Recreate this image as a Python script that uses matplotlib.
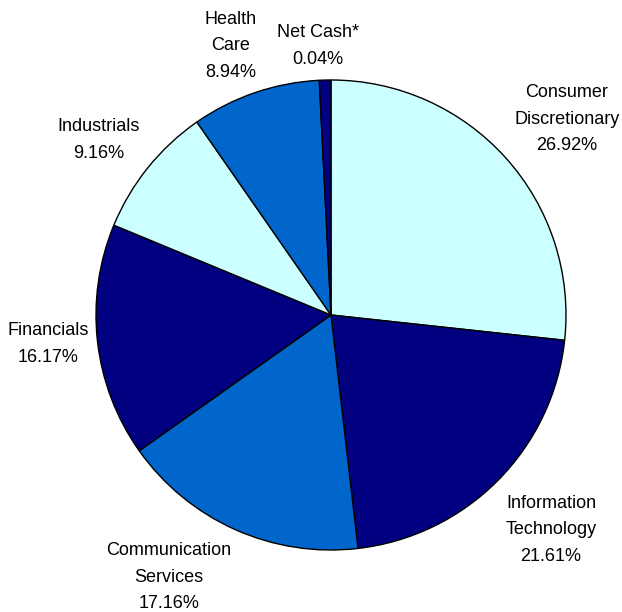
import matplotlib
matplotlib.use("Agg")
import matplotlib.pyplot as plt

sectors = ["Consumer\nDiscretionary", "Information\nTechnology", "Communication\nServices",
           "Financials", "Industrials", "Health\nCare", "Net Cash*"]
label_pct = [26.92, 21.61, 17.16, 16.17, 9.16, 8.94, 0.04]
# slice sizes as drawn in the picture (net cash sliver is drawn wider than its value)
drawn_share = [26.92, 21.61, 17.16, 16.17, 9.16, 8.94, 0.8]
colors = ["#CCFFFF", "#000080", "#0066CC", "#000080", "#CCFFFF", "#0066CC", "#000080"]

# label anchor positions (pixels, top-left origin)
label_pos = [(567, 119), (551, 530), (169, 577), (48, 344), (99, 140), (231, 46), (318, 46)]

W, H = 622, 612
fig = plt.figure(figsize=(W / 100, H / 100), dpi=100)
ax = fig.add_axes([0, 0, 1, 1])
ax.set_xlim(0, W)
ax.set_ylim(0, H)
ax.set_aspect("equal")
ax.axis("off")

ax.pie(drawn_share, colors=colors, startangle=90, counterclock=False,
       center=(331, H - 315), radius=235,
       wedgeprops=dict(edgecolor="black", linewidth=1.0))
ax.set_xlim(0, W)
ax.set_ylim(0, H)

for name, p, (x, y) in zip(sectors, label_pct, label_pos):
    ax.text(x, H - y, f"{name}\n{p:.2f}%", ha="center", va="center",
            fontsize=13, family=["Liberation Sans", "DejaVu Sans"],
            linespacing=1.75, color="black")

fig.savefig("out.png", dpi=100)
